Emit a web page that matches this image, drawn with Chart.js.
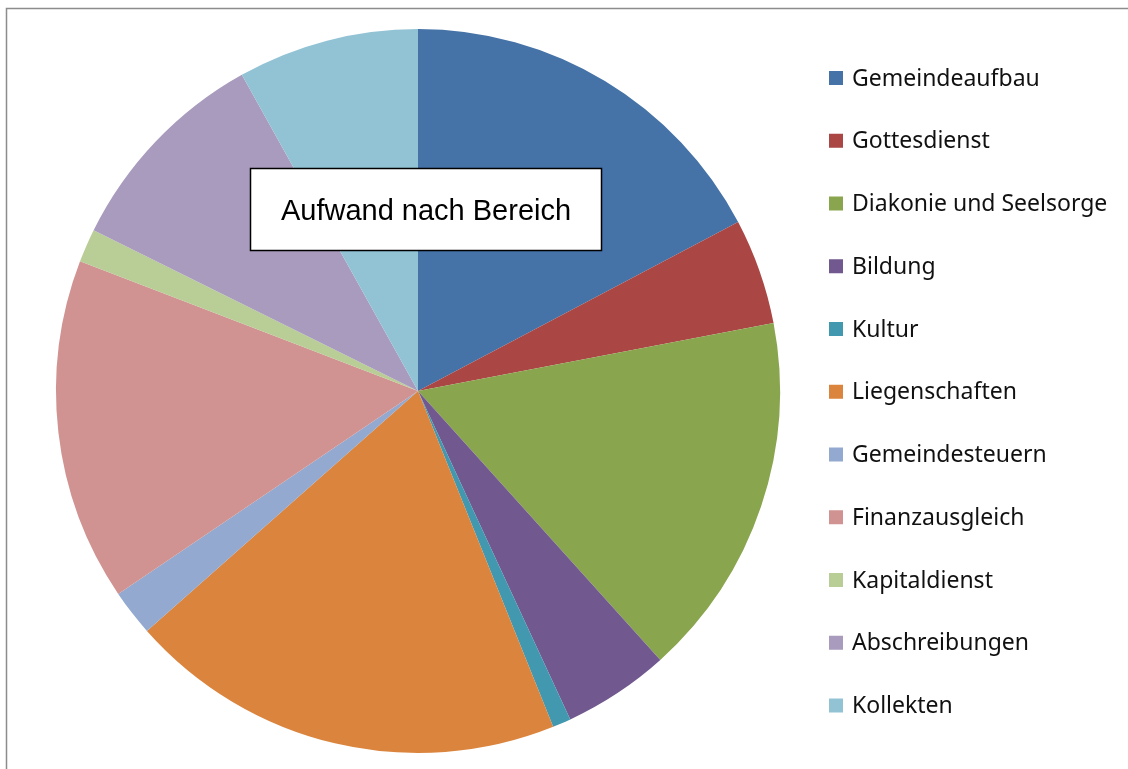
<!DOCTYPE html>
<html lang="de">
<head>
    <meta charset="UTF-8">
    <title>Aufwand nach Bereich</title>
    <script src="https://cdn.jsdelivr.net/npm/chart.js"></script>
    <style>
        body { margin: 0; padding: 0; background: #fff; }
        .chart-container { position: relative; width: 1128px; height: 769px; }
    </style>
</head>
<body>
    <div class="chart-container">
        <canvas id="pieChart"></canvas>
    </div>

    <script>
        // Bereiche und Anteile (in Prozent, aus dem Bild geschätzt)
        const labels = [
            'Gemeindeaufbau', 'Gottesdienst', 'Diakonie und Seelsorge', 'Bildung', 'Kultur',
            'Liegenschaften', 'Gemeindesteuern', 'Finanzausgleich', 'Kapitaldienst',
            'Abschreibungen', 'Kollekten'
        ];
        const values = [17.27, 4.72, 16.34, 4.76, 0.82, 19.56, 2.06, 15.30, 1.49, 9.59, 8.09];
        const colors = [
            '#4572A7', '#AA4643', '#89A54E', '#71588F', '#4198AF',
            '#DB843D', '#93A9CF', '#D19392', '#B9CD96', '#A99BBD', '#92C3D5'
        ];
        const title = 'Aufwand nach Bereich';

        // Rahmen, Titelkasten und Legende
        const decorations = {
            id: 'decorations',
            afterDraw(chart) {
                const ctx = chart.ctx;
                ctx.save();

                // outer frame (only top/left visible)
                ctx.strokeStyle = '#8c8c8c';
                ctx.lineWidth = 1.5;
                ctx.strokeRect(6.5, 8.5, 1300, 1000);

                // title box over the pie
                ctx.fillStyle = '#ffffff';
                ctx.fillRect(250, 168, 352, 83);
                ctx.strokeStyle = '#000000';
                ctx.lineWidth = 1.5;
                ctx.strokeRect(250.5, 168.5, 351, 82);
                ctx.fillStyle = '#000000';
                ctx.font = '29px "Liberation Sans", Arial, sans-serif';
                ctx.textAlign = 'center';
                ctx.textBaseline = 'alphabetic';
                ctx.fillText(title, 426, 219.5);

                // legend
                ctx.font = '23px "Noto Sans", "Open Sans", sans-serif';
                ctx.textAlign = 'left';
                ctx.textBaseline = 'middle';
                chart.data.labels.forEach((label, i) => {
                    const y = 78 + i * 62.75;
                    ctx.fillStyle = chart.data.datasets[0].backgroundColor[i];
                    ctx.fillRect(829, y - 7, 14, 14);
                    ctx.fillStyle = '#111111';
                    ctx.fillText(label, 852, y + 1);
                });
                ctx.restore();
            }
        };

        const ctx = document.getElementById('pieChart').getContext('2d');
        new Chart(ctx, {
            type: 'pie',
            data: {
                labels: labels,
                datasets: [{
                    data: values,
                    backgroundColor: colors,
                    borderWidth: 0,
                    hoverOffset: 0,
                    offset: 0
                }]
            },
            options: {
                responsive: true,
                maintainAspectRatio: false,
                animation: false,
                layout: {
                    padding: { left: 56, top: 29, right: 348, bottom: 16 }
                },
                plugins: {
                    legend: { display: false },
                    tooltip: { enabled: false }
                }
            },
            plugins: [decorations]
        });
    </script>
</body>
</html>
